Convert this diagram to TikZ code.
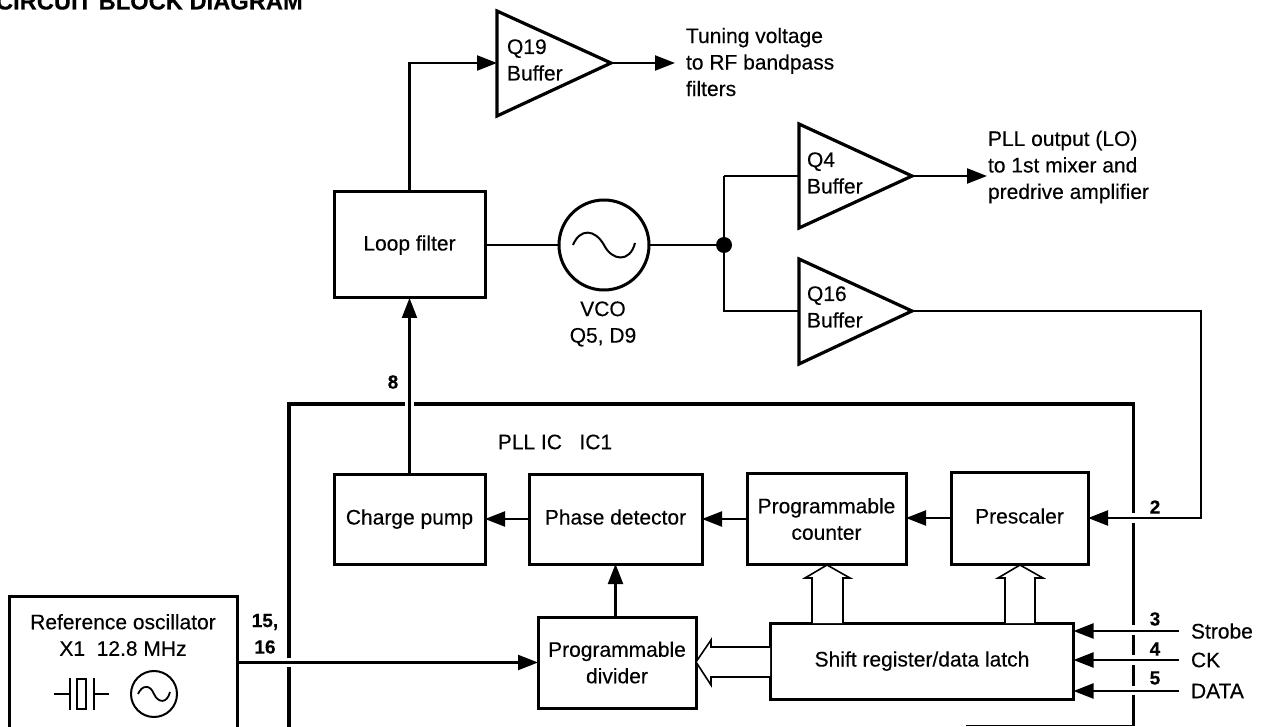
\documentclass[tikz,border=0pt]{standalone}
\usepackage{fontspec}
\setmainfont[FakeBold=0.25]{Liberation Sans}
\usetikzlibrary{arrows.meta,calc}
\tikzset{
  base/.style={font=\fontsize{21}{26.5}\selectfont,inner sep=0pt,outer sep=0pt},
  box/.style={base,draw,line width=3pt,align=center},
  oneline/.style={text height=15.5pt,text depth=4.5pt},
  lbl/.style={base,align=left,anchor=west},
  ctr/.style={base,align=center},
  num/.style={base,font=\fontsize{19}{24}\selectfont\bfseries},
  wire/.style={line width=2.2pt},
  thinwire/.style={line width=1.6pt},
  arr/.style={wire,-{Triangle[length=20pt,width=15pt]}},
  amp/.style={line width=3.2pt,line join=miter},
  icline/.style={line width=3.6pt},
  hollow/.style={line width=1.6pt,line join=miter,fill=white},
}
\begin{document}
\begin{tikzpicture}[x=1pt,y=-1pt]
\useasboundingbox (0,0) rectangle (1267,727);
\clip (0,0) rectangle (1267,727);
\node[base,anchor=base west,font=\fontsize{23.7}{28}\selectfont\bfseries] (title) at (-4,9.5) {CIRCUIT BLOCK DIAGRAM};

% amplifiers
\draw[amp] (497,11) -- (497,116) -- (611,63) -- cycle;
\coordinate (q19in) at (497,63); \coordinate (q19out) at (611,63);
\node[ctr,anchor=west,align=left] (q19) at (507,60) {Q19\\Buffer};
\draw[amp] (799,124) -- (799,228) -- (912,176) -- cycle;
\coordinate (q4in) at (799,176); \coordinate (q4out) at (912,176);
\node[ctr,anchor=west,align=left] (q4) at (807,173) {Q4\\Buffer};
\draw[amp] (799,259) -- (799,364) -- (912,311) -- cycle;
\coordinate (q16in) at (799,311); \coordinate (q16out) at (912,311);
\node[ctr,anchor=west,align=left] (q16) at (807,307) {Q16\\Buffer};

\node[lbl] (tune) at (686,62) {Tuning voltage\\to RF bandpass\\filters};
\node[lbl] (pllout) at (988,167) {PLL output (LO)\\to 1st mixer and\\predrive amplifier};
\coordinate (tuneend) at (675,63);
\coordinate (lo) at (987,176);

% boxes
\node[box,oneline,minimum width=151,minimum height=106] (loop) at (409.5,245) {Loop filter};
\node[draw,circle,line width=3pt,minimum size=90,inner sep=0pt,outer sep=0pt] (vco) at (604,245) {};
\draw[line width=2pt] (573,245) .. controls (580,228) and (595,229) .. (604,245) .. controls (612,261) and (630,263) .. (635,243);
\node[ctr] (vcot) at (603,324) {VCO\\Q5, D9};
\fill (724,245) circle (8) coordinate (dot);

\node[box,oneline,minimum width=151,minimum height=90] (cp) at (409.5,519) {Charge pump};
\node[box,oneline,minimum width=173,minimum height=90] (pd) at (615.5,519) {Phase detector};
\node[box,minimum width=159,minimum height=91] (pc) at (826.5,519) {Programmable\\counter};
\node[box,oneline,minimum width=137,minimum height=92] (pre) at (1019.5,518) {Prescaler};
\node[box,minimum width=158,minimum height=91] (pdiv) at (617,662.5) {Programmable\\divider};
\node[box,oneline,minimum width=303,minimum height=76] (shift) at (922,661) {Shift register/data latch};

% reference oscillator
\node[box,anchor=north west,minimum width=228,minimum height=200] (ref) at (9,596) {};
\node[ctr] (reft) at (123,635) {Reference oscillator\\X1\ \ 12.8 MHz};
\node[draw,circle,line width=2pt,minimum size=46,inner sep=0pt] (refosc) at (154,694) {};
\draw[line width=1.8pt] (138,694) .. controls (142,685) and (150,684) .. (154,694) .. controls (158,703) and (167,704) .. (170,692);
\draw[line width=1.8pt] (54,694) -- (70,694) (70,678) -- (70,710) (77,679) rectangle (86,709) (94,678) -- (94,710) (94,694) -- (109,694);

% PLL IC outline
\draw[icline] (289,740) -- (289,667) (289,658) -- (289,404) -- (405,404);
\draw[icline] (414,404) -- (1133.5,404) -- (1133.5,513);
\draw[icline] (1133.5,523) -- (1133.5,625) (1133.5,635) -- (1133.5,655) (1133.5,665) -- (1133.5,686) (1133.5,695) -- (1133.5,726);
\draw[thinwire] (966,725.5) -- (1133.5,725.5);
\node[base] (pll) at (555,442) {PLL IC\ \ \ IC1};

% connectors
\draw[arr] (loop.north) |- (q19in);
\draw[arr] (q19out) -- (tuneend);
\draw[wire] (loop.east) -- (vco.west);
\draw[wire] (vco.east) -- (dot);
\draw[wire] (q4in -| dot) -- (q4in);
\draw[wire] (q4in -| dot) -- (dot) -- (dot |- q16in) -- (q16in);
\draw[arr] (q4out) -- (lo);
\coordinate (turn) at (1201,311);
\coordinate (pin2) at (1201,518);
\draw[arr] (q16out) -- (turn) -- (pin2) -- (pre.east);
\draw[arr] (cp.north) -- (loop.south);
\draw[arr] (pd.west) -- (cp.east);
\draw[arr] (pc.west |- pd.east) -- (pd.east);
\draw[arr] (pre.west) -- (pc.east |- pre.west);
\draw[arr] (pdiv.north -| pd.south) -- (pd.south);
\draw[arr] (ref.east |- pdiv.west) -- (pdiv.west);
\node[num] (n8) at (393,382) {8};
\node[num] (n2) at (1155,507) {2};
\node[num] (n15) at (265,622) {15,};
\node[num] (n16) at (265,647) {16};
\node[num] (n3) at (1155,619) {3};
\node[num] (n4) at (1155,649) {4};
\node[num] (n5) at (1155,678) {5};
\node[lbl] (strobe) at (1191,631) {Strobe};
\node[lbl] (ck) at (1191,660) {CK};
\node[lbl] (data) at (1191,691) {DATA};
\coordinate (s3) at (1179,631); \coordinate (s4) at (1179,660); \coordinate (s5) at (1179,691);
\draw[arr] (s3) -- (shift.east |- s3);
\draw[arr] (s4) -- (shift.east |- s4);
\draw[arr] (s5) -- (shift.east |- s5);

% bus arrows
\draw[hollow] (812,623) -- (812,578) -- (805,578) -- (827,565) -- (850,578) -- (843,578) -- (843,623);
\draw[hollow] (1005,623) -- (1005,578) -- (998,578) -- (1020,565) -- (1043,578) -- (1035,578) -- (1035,623);
\draw[hollow] (770,647) -- (711,647) -- (711,640) -- (696,662) -- (711,685) -- (711,677) -- (770,677);
\end{tikzpicture}
\end{document}
